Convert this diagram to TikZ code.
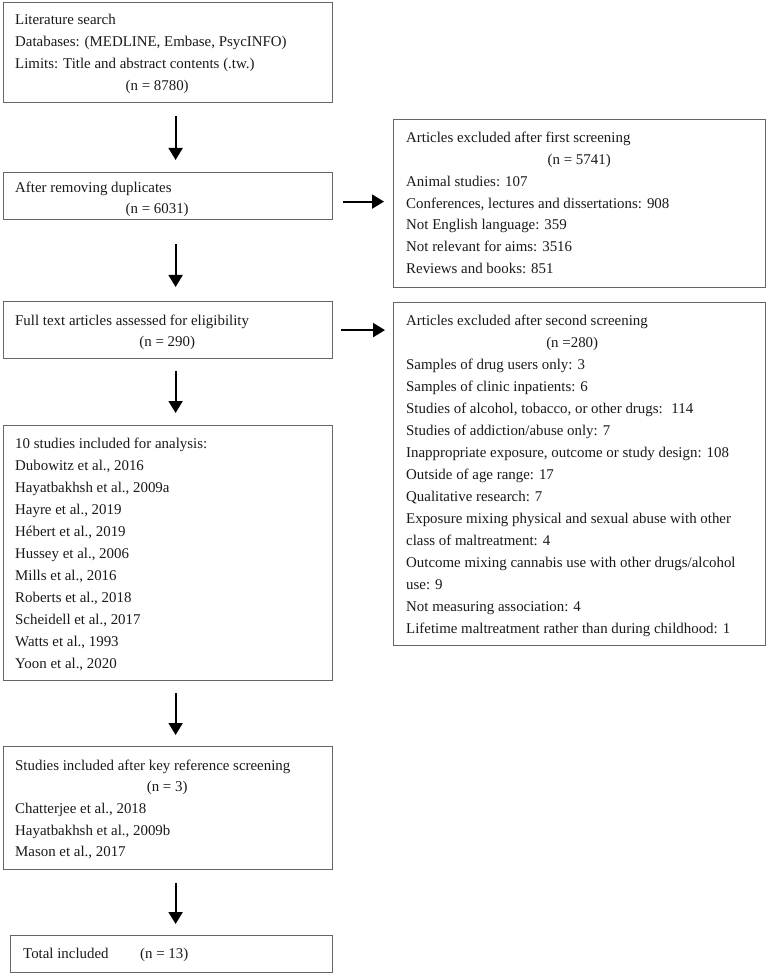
\documentclass[tikz,border=0pt]{standalone}
\usepackage{fontspec}
\setmainfont{Liberation Serif}
\usetikzlibrary{arrows.meta}
\begin{document}
\begin{tikzpicture}[x=1pt,y=-1pt,
  box/.style={draw=black!60, line width=1.2pt, inner sep=0pt, anchor=north west},
  txt/.style={anchor=base west, inner sep=0pt, text=black!90},
  arr/.style={line width=2pt, -{Triangle[width=14pt,length=12pt]}},
  font=\fontsize{14.9}{21.7}\selectfont]
\useasboundingbox (0,0) rectangle (768,973);
% boxes
\node[box, minimum width=329pt, minimum height=100pt] (b1) at (3,2) {};
\node[box, minimum width=329pt, minimum height=47pt] (b2) at (3,172) {};
\node[box, minimum width=329pt, minimum height=57pt] (b3) at (3,301) {};
\node[box, minimum width=329pt, minimum height=255pt] (b4) at (3,425) {};
\node[box, minimum width=329pt, minimum height=123pt] (b5) at (3,746) {};
\node[box, minimum width=322pt, minimum height=37pt] (b6) at (10,935) {};
\node[box, minimum width=372pt, minimum height=168pt] (r1) at (393,119) {};
\node[box, minimum width=372pt, minimum height=343pt] (r2) at (393,302) {};
% texts
\node[txt] (t1) at (15,25) {\parbox[t]{320pt}{Literature search\\Databases: (MEDLINE, Embase, PsycINFO)\\Limits: Title and abstract contents (.tw.)\\\makebox[284pt]{(n = 8780)}}};
\node[txt] (t2) at (15,193) {\parbox[t]{320pt}{\baselineskip=20.5pt After removing duplicates\\\makebox[284pt]{(n = 6031)}}};
\node[txt] (t3) at (15,325) {\parbox[t]{320pt}{Full text articles assessed for eligibility\\\makebox[304pt]{(n = 290)}}};
\node[txt] (t4) at (15,448) {\parbox[t]{320pt}{\baselineskip=22pt 10 studies included for analysis:\\Dubowitz et al., 2016\\Hayatbakhsh et al., 2009a\\Hayre et al., 2019\\Hébert et al., 2019\\Hussey et al., 2006\\Mills et al., 2016\\Roberts et al., 2018\\Scheidell et al., 2017\\Watts et al., 1993\\Yoon et al., 2020}};
\node[txt] (t5) at (15,770) {\parbox[t]{320pt}{Studies included after key reference screening\\\makebox[304pt]{(n = 3)}\\Chatterjee et al., 2018\\Hayatbakhsh et al., 2009b\\Mason et al., 2017}};
\node[txt] (t6) at (23,958) {\makebox[117pt][l]{Total included}(n = 13)};
\node[txt] (t7) at (406,143) {\parbox[t]{360pt}{Articles excluded after first screening\\\makebox[346pt]{(n = 5741)}\\Animal studies: 107\\Conferences, lectures and dissertations: 908\\Not English language: 359\\Not relevant for aims: 3516\\Reviews and books: 851}};
\node[txt] (t8) at (406,325) {\parbox[t]{360pt}{\baselineskip=22pt Articles excluded after second screening\\\makebox[332pt]{(n =280)}\\Samples of drug users only: 3\\Samples of clinic inpatients: 6\\Studies of alcohol, tobacco, or other drugs: \ 114\\Studies of addiction/abuse only: 7\\Inappropriate exposure, outcome or study design: 108\\Outside of age range: 17\\Qualitative research: 7\\Exposure mixing physical and sexual abuse with other\\class of maltreatment: 4\\Outcome mixing cannabis use with other drugs/alcohol\\use: 9\\Not measuring association: 4\\Lifetime maltreatment rather than during childhood: 1}};
% arrows
\draw[arr, shorten <=13pt, shorten >=12pt] ([xshift=7.5pt]b1.south) -- ([xshift=7.5pt]b1.south |- b2.north);
\draw[arr, shorten <=24pt, shorten >=14pt] ([xshift=7.5pt]b2.south) -- ([xshift=7.5pt]b2.south |- b3.north);
\draw[arr, shorten <=12pt, shorten >=12pt] ([xshift=7.5pt]b3.south) -- ([xshift=7.5pt]b3.south |- b4.north);
\draw[arr, shorten <=12pt, shorten >=11pt] ([xshift=7.5pt]b4.south) -- ([xshift=7.5pt]b4.south |- b5.north);
\draw[arr, shorten <=13pt, shorten >=11pt] ([xshift=7.5pt]b5.south) -- ([xshift=7.5pt]b5.south |- b6.north);
\draw[arr, shorten <=10pt, shorten >=9pt] ([yshift=-5.5pt]b2.east) -- ([yshift=-5.5pt]b2.east -| r1.west);
\draw[arr, shorten <=8pt, shorten >=8pt] (b3.east) -- (b3.east -| r2.west);
\end{tikzpicture}
\end{document}
